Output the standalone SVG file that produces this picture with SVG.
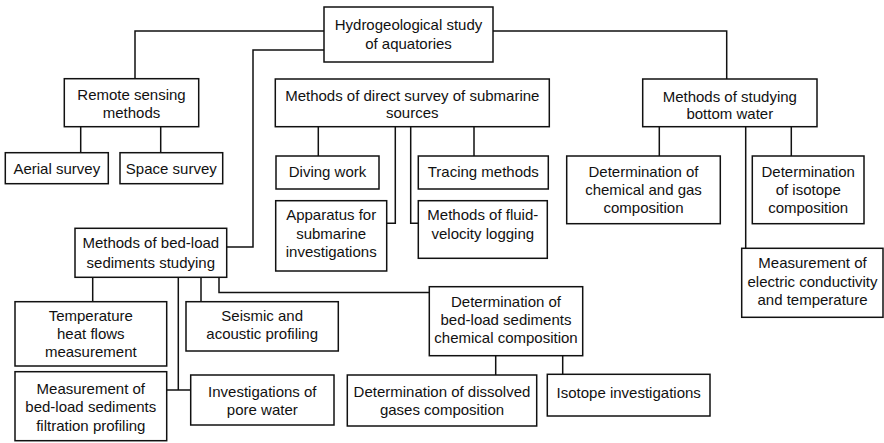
<svg xmlns="http://www.w3.org/2000/svg" width="884" height="443" viewBox="0 0 884 443">
<style>
.b{fill:#fff;stroke:#111;stroke-width:1.5}
.c{fill:none;stroke:#111;stroke-width:1.5}
text{font-family:"Liberation Sans",Arial,sans-serif;font-size:15px;fill:#111;text-anchor:middle}
</style>
<rect width="884" height="443" fill="#fff"/>
<g id="connectors">
<path class="c" d="M324,31H135V78.7M493,31H726.7V79M324,50H253V247H226.7"/>
<path class="c" d="M80.7,126.7V152.7M160.7,126.7V152.7"/>
<path class="c" d="M318.3,126.7V156M474,126.7V156M395.3,126.7V223.3H386.7M410.7,126.7V223.3H418.3"/>
<path class="c" d="M659.3,126.7V156M791.3,126.7V156M745.7,126.7V248.3"/>
<path class="c" d="M92.7,277.3V301.7M201,277.3V301.7M219,277.3V292.5H429.3M178.3,277.3V390M166.7,390H190.7"/>
<path class="c" d="M495.7,355.7V375M562.7,355.7V374.3"/>
</g>
<g id="root"><rect class="b" x="324" y="7" width="169" height="55"/><text x="408.5" y="30">Hydrogeological study</text><text x="408.5" y="48.5">of aquatories</text></g>
<g id="remote"><rect class="b" x="64.3" y="78.7" width="134.4" height="48"/><text x="131.5" y="100">Remote sensing</text><text x="131.5" y="118">methods</text></g>
<g id="aerial"><rect class="b" x="5.3" y="152.7" width="103" height="31"/><text x="56.8" y="174">Aerial survey</text></g>
<g id="space"><rect class="b" x="120" y="152.7" width="102.7" height="31"/><text x="171.3" y="174">Space survey</text></g>
<g id="direct"><rect class="b" x="275.3" y="79" width="274" height="47.7"/><text x="412.3" y="100.7">Methods of direct survey of submarine</text><text x="412.3" y="118.3">sources</text></g>
<g id="diving"><rect class="b" x="276" y="156" width="103" height="33"/><text x="327.5" y="176.7">Diving work</text></g>
<g id="tracing"><rect class="b" x="418.3" y="156" width="130" height="33"/><text x="483.3" y="176.7">Tracing methods</text></g>
<g id="apparatus"><rect class="b" x="275.7" y="200.7" width="111" height="70.3"/><text x="331.2" y="220">Apparatus for</text><text x="331.2" y="239">submarine</text><text x="331.2" y="257.3">investigations</text></g>
<g id="fluid"><rect class="b" x="418.3" y="200.7" width="129" height="57.6"/><text x="482.8" y="220">Methods of fluid-</text><text x="482.8" y="239">velocity logging</text></g>
<g id="bottom"><rect class="b" x="642.7" y="79" width="174.3" height="47.7"/><text x="729.8" y="101.7">Methods of studying</text><text x="729.8" y="119">bottom water</text></g>
<g id="chemgas"><rect class="b" x="566.7" y="156" width="153.6" height="67.7"/><text x="643.5" y="177.3">Determination of</text><text x="643.5" y="195">chemical and gas</text><text x="643.5" y="213">composition</text></g>
<g id="isocomp"><rect class="b" x="752.3" y="156" width="111.7" height="67.7"/><text x="808.2" y="177.3">Determination</text><text x="808.2" y="195">of isotope</text><text x="808.2" y="213">composition</text></g>
<g id="electric"><rect class="b" x="741.7" y="248.3" width="141.3" height="69"/><text x="812.5" y="268.3">Measurement of</text><text x="812.5" y="286.7">electric conductivity</text><text x="812.5" y="305">and temperature</text></g>
<g id="bedload"><rect class="b" x="75" y="228.3" width="151.7" height="49"/><text x="150.8" y="248.3">Methods of bed-load</text><text x="150.8" y="267.7">sediments studying</text></g>
<g id="temperature"><rect class="b" x="15" y="301.7" width="151.7" height="64.3"/><text x="90.8" y="321">Temperature</text><text x="90.8" y="339">heat flows</text><text x="90.8" y="357.3">measurement</text></g>
<g id="filtration"><rect class="b" x="15" y="371.7" width="151.7" height="69"/><text x="90.8" y="394.3">Measurement of</text><text x="90.8" y="412.3">bed-load sediments</text><text x="90.8" y="430.7">filtration profiling</text></g>
<g id="seismic"><rect class="b" x="186" y="301.7" width="152.3" height="49.3"/><text x="262.2" y="321">Seismic and</text><text x="262.2" y="339">acoustic profiling</text></g>
<g id="pore"><rect class="b" x="190.7" y="375" width="143.3" height="50"/><text x="262.3" y="396.7">Investigations of</text><text x="262.3" y="415">pore water</text></g>
<g id="chemcomp"><rect class="b" x="429.3" y="286.7" width="153.4" height="69"/><text x="506" y="307.3">Determination of</text><text x="506" y="325">bed-load sediments</text><text x="506" y="343">chemical composition</text></g>
<g id="dissolved"><rect class="b" x="347.3" y="375" width="189.4" height="51"/><text x="442" y="397.3">Determination of dissolved</text><text x="442" y="415">gases composition</text></g>
<g id="isotope"><rect class="b" x="547.3" y="374.3" width="162.7" height="41.7"/><text x="628.7" y="397.7">Isotope investigations</text></g>
</svg>
